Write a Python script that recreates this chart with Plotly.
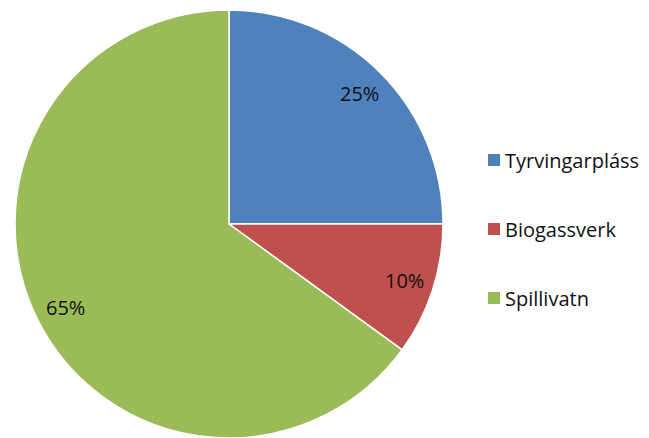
import math
import plotly.graph_objects as go

categories = ["Tyrvingarpláss", "Biogassverk", "Spillivatn"]
values = [25, 10, 65]
colors = ["#4F81BD", "#C0504D", "#9BBB59"]

W, H = 649, 438
OX, OY = 8, 8  # page body offset of the plot div
FONT = "Open Sans, Liberation Sans, sans-serif"


def px_x(x):
    return (x - OX) / W


def px_y(y):
    return 1 - (y - OY) / H


# pie placement in screen pixels
cx, cy, R = 229, 224, 214
dom_x = [px_x(cx - R), px_x(cx + R)]
dom_y = [px_y(cy + R), px_y(cy - R)]

fig = go.Figure(go.Pie(
    labels=categories, values=values, sort=False, direction="clockwise",
    rotation=0, marker=dict(colors=colors, line=dict(color="white", width=1.5)),
    textinfo="none", hoverinfo="label+percent", showlegend=False,
    domain=dict(x=dom_x, y=dom_y),
))

annotations = []
total = sum(values)
cum = 0
for v in values:
    mid = (cum + v / 2) / total * 2 * math.pi
    cum += v
    rr = 0.86 * R
    lx = cx + rr * math.sin(mid)
    ly = cy - rr * math.cos(mid)
    annotations.append(dict(x=px_x(lx), y=px_y(ly), xref="paper", yref="paper",
                            xanchor="center", yanchor="middle",
                            text=f"{round(v / total * 100)}%", showarrow=False,
                            font=dict(family=FONT, size=20, color="#111111")))

shapes = []
leg_x, leg_y0, leg_gap = 488, 160, 69
for i, (c, col) in enumerate(zip(categories, colors)):
    y = leg_y0 + i * leg_gap
    shapes.append(dict(type="rect", xref="paper", yref="paper",
                       x0=px_x(leg_x), x1=px_x(leg_x + 12),
                       y0=px_y(y + 6), y1=px_y(y - 6),
                       fillcolor=col, line=dict(width=0)))
    annotations.append(dict(x=px_x(leg_x + 15), y=px_y(y), xref="paper", yref="paper",
                            xanchor="left", yanchor="middle", text=c, showarrow=False,
                            font=dict(family=FONT, size=20, color="#111111")))

fig.update_layout(width=W, height=H, margin=dict(l=0, r=0, t=0, b=0),
                  paper_bgcolor="white", plot_bgcolor="white",
                  annotations=annotations, shapes=shapes)
fig.write_html("out.html")
